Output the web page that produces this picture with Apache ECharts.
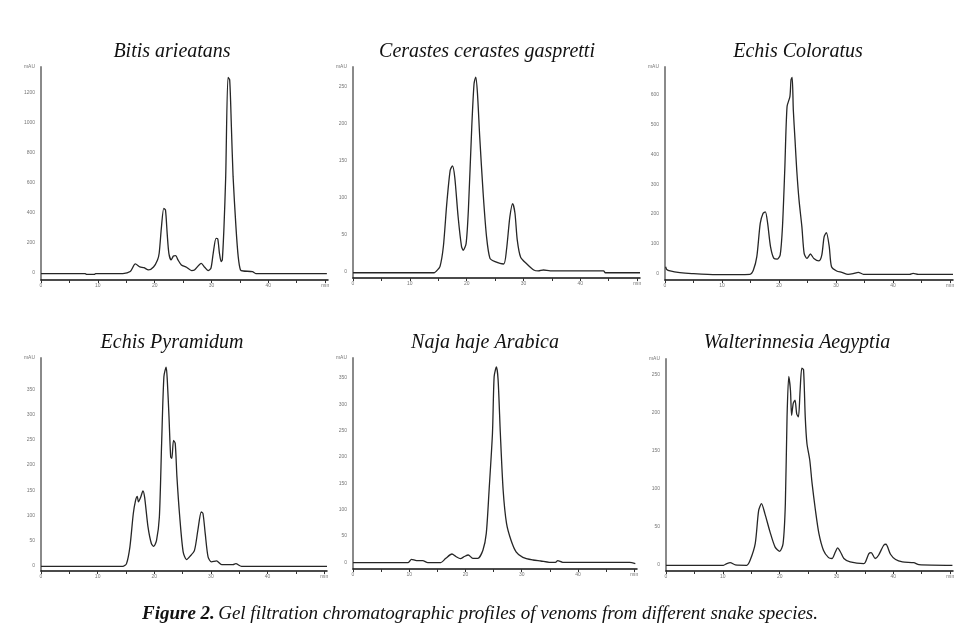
<!DOCTYPE html>
<html><head><meta charset="utf-8">
<script src="https://cdn.jsdelivr.net/npm/echarts@6/dist/echarts.min.js"></script>
<style>html,body{margin:0;padding:0;background:#fff}#c{width:970px;height:636px}</style>
</head><body><div id="c"></div><script>
// ---- data ----
const panelTitles = ['Bitis arieatans', 'Cerastes cerastes gaspretti', 'Echis Coloratus',
  'Echis Pyramidum', 'Naja haje Arabica', 'Walterinnesia Aegyptia'];
const caption = 'Gel filtration chromatographic profiles of venoms from different snake species.';
const captionLead = 'Figure 2.';
const xTickValues = [0, 5, 10, 15, 20, 25, 30, 35, 40, 45, 50];
const xLabelValues = [0, 10, 20, 30, 40, 50];
const xUnit = 'min';
const yUnit = 'mAU';
const yLabels1 = [0, 200, 400, 600, 800, 1000, 1200];
const yLabels2 = [0, 50, 100, 150, 200, 250];
const yLabels3 = [0, 100, 200, 300, 400, 500, 600];
const yLabels4 = [0, 50, 100, 150, 200, 250, 300, 350];
const yLabels5 = [0, 50, 100, 150, 200, 250, 300, 350];
const yLabels6 = [0, 50, 100, 150, 200, 250];

const bitis = [[0,-4],[7.8,-4],[8.0,-10],[9.4,-10],[9.6,-4],[14.4,-4],[15.7,9],[16.6,60],[17.4,40],[18.1,35],[18.9,20],[19.8,40],[20.5,87],[20.8,133],[21.2,309],[21.6,431],[21.9,420],[22.2,264],[22.5,131],[22.9,87],[23.3,113],[23.7,116],[24.1,87],[24.7,53],[25.6,38],[26.5,16],[27.0,20],[28.2,64],[28.8,38],[29.4,16],[29.9,31],[30.3,131],[30.8,231],[31.1,227],[31.4,131],[31.7,76],[31.9,87],[32.2,309],[32.5,642],[32.9,1304],[33.2,1287],[33.5,975],[33.8,642],[34.3,309],[34.7,109],[35.1,20],[35.6,13],[37.2,9],[37.8,-4],[50.3,-4]];
const cerastes = [[0,-1.4],[14.3,-1.4],[14.7,1],[15.3,6.8],[15.9,34],[16.5,92],[17.1,137],[17.5,143],[17.9,128],[18.5,74],[19.1,34],[19.4,29],[19.9,38],[20.3,83],[20.9,196],[21.3,254],[21.6,263],[21.9,241],[22.3,182],[22.9,106],[23.5,47],[24.1,18],[25.0,13.5],[26.5,10.4],[27.0,29],[27.6,74],[28.1,92],[28.5,79],[28.9,43],[29.5,19.5],[30.6,10.4],[31.8,2.3],[32.6,1],[33.5,2.3],[34.7,1],[44.1,1],[44.4,-1.4],[50.5,-1.4]];
const coloratus = [[0.1,22],[0.3,13],[0.9,7.8],[2.6,2.2],[4.7,-1],[9,-4.5],[14.9,-3.4],[15.5,11],[16.1,56],[16.7,168],[17.2,202],[17.6,207],[18.0,168],[18.5,90],[19.1,50],[19.7,48],[20.2,62],[20.6,157],[21.0,348],[21.4,561],[21.9,595],[22.1,651],[22.3,660],[22.5,550],[22.8,449],[23.1,348],[23.5,247],[24.0,157],[24.4,67],[24.9,50],[25.5,65],[26.1,50],[27.0,42],[27.5,62],[27.9,123],[28.3,137],[28.8,90],[29.2,22],[30.1,7.8],[31.0,3.4],[32.1,-3.4],[33.0,-1],[33.9,3.4],[34.8,-3.4],[42.9,-3.4],[43.5,0],[44.4,-3.4],[50.5,-3.4]];
const pyramidum = [[0,-0.6],[14.5,-0.6],[15.1,4.7],[15.7,38],[16.3,104],[16.7,130],[17.0,138],[17.2,127],[17.6,136],[18.0,149],[18.3,136],[18.9,77],[19.5,44],[19.9,39],[20.4,51],[20.9,97],[21.3,243],[21.7,375],[22.1,394],[22.3,368],[22.6,296],[22.9,216],[23.1,213],[23.4,249],[23.7,243],[24.0,177],[24.5,97],[25.1,28],[25.7,12.6],[26.3,19],[27.1,31],[27.7,71],[28.3,107],[28.6,104],[29.0,64],[29.5,18],[30.1,8],[31.0,10],[31.9,2.8],[33.9,2.8],[34.4,4.7],[35.4,-0.6],[50.5,-0.6]];
const naja = [[0,-0.6],[9.8,-0.6],[10.4,5.7],[11.3,3.2],[12.4,3.2],[13.3,-0.6],[15.6,-0.6],[16.5,7.6],[17.6,15.8],[18.3,11],[19.1,7],[19.8,11],[20.5,13.9],[21.3,7.6],[22.2,7.6],[23.1,23],[23.7,55],[24.2,137],[24.8,245],[25.1,353],[25.5,371],[25.8,347],[26.2,245],[26.7,137],[27.3,74],[28.1,42],[29.0,20],[30.2,9.5],[32.0,4.4],[33.4,2.5],[34.9,0],[36.0,0],[36.4,3.2],[37.3,0],[49.2,0],[50.2,-2.5]];
const walterinnesia = [[0,-0.9],[10.1,-0.9],[10.7,1.3],[11.3,2.6],[12.2,-0.4],[14.2,-0.9],[14.8,5.7],[15.7,27.6],[16.3,71],[16.8,80],[17.4,67],[18.3,43],[19.2,23],[20.0,17.5],[20.6,27.6],[21.0,80],[21.3,194],[21.6,247],[21.9,229],[22.1,196],[22.4,212],[22.7,216],[23.0,198],[23.3,194],[23.6,229],[23.9,258],[24.2,256],[24.5,194],[24.8,159],[25.3,137],[25.7,107],[26.3,71],[26.9,41],[27.7,19],[28.6,9.2],[29.2,8],[29.8,16.6],[30.2,22],[30.7,16.6],[31.3,8],[32.4,3.5],[34.8,1.3],[35.1,3.5],[35.7,14.5],[36.1,15.8],[36.8,8],[37.4,12.3],[38.3,25.4],[38.7,26.7],[39.5,13.6],[40.4,6.6],[41.6,3.5],[43.6,2.6],[44.5,0],[50.4,-0.9]];

// ---- layout ----
const series = [bitis, cerastes, coloratus, pyramidum, naja, walterinnesia];
const yLabelSets = [yLabels1, yLabels2, yLabels3, yLabels4, yLabels5, yLabels6];
const yRanges = [[-47, 1373], [-8.5, 276.6], [-22.6, 694.6], [-9.9, 412], [-12.7, 388], [-8.4, 270]];
const grids = [
  {left: 41, top: 67, width: 287, height: 213},
  {left: 353, top: 67, width: 287, height: 211},
  {left: 665, top: 67, width: 288, height: 213},
  {left: 41, top: 358, width: 286, height: 213},
  {left: 353, top: 358, width: 284, height: 211},
  {left: 666, top: 359, width: 287, height: 212}
];
const titlePos = [[172, 52], [487, 52], [798, 52], [172, 343], [485, 343], [797, 343]];

const chart = echarts.init(document.getElementById('c'), null, {renderer: 'canvas'});
const xAxes = [], yAxes = [], ser = [], graphics = [];
grids.forEach((g, i) => {
  const yl = yLabelSets[i];
  const yr = yRanges[i];
  xAxes.push({
    type: 'value', gridIndex: i, min: 0, max: 50.5,
    axisLine: {onZero: false, lineStyle: {color: '#111', width: 1.5}},
    axisTick: {show: true, length: 3, inside: false, customValues: xTickValues, lineStyle: {color: '#333', width: 1}},
    axisLabel: {customValues: xLabelValues, fontSize: 5, color: '#777', margin: 3,
      formatter: v => v === 50 ? xUnit : String(v)},
    splitLine: {show: false}
  });
  yAxes.push({
    type: 'value', gridIndex: i, min: yr[0], max: yr[1],
    axisLine: {show: true, onZero: false, lineStyle: {color: '#8a8a8a', width: 2}},
    axisTick: {show: false},
    axisLabel: {customValues: yl.concat([yr[1]]), fontSize: 5, color: '#777', margin: 6,
      formatter: v => v === yr[1] ? yUnit : String(v)},
    splitLine: {show: false}
  });
  ser.push({
    type: 'line', xAxisIndex: i, yAxisIndex: i, data: series[i],
    showSymbol: false, smooth: 0.25, silent: true,
    lineStyle: {color: '#262626', width: 1.3}
  });
  graphics.push({
    type: 'text', x: titlePos[i][0], y: titlePos[i][1],
    style: {text: panelTitles[i], font: 'italic 20px "Liberation Serif", serif', fill: '#111',
      textAlign: 'center', textVerticalAlign: 'middle'}
  });
});
graphics.push({
  type: 'text', x: 480, y: 614,
  style: {
    text: '{b|' + captionLead + '} {i|' + caption + '}',
    textAlign: 'center', textVerticalAlign: 'middle',
    rich: {
      b: {font: 'italic bold 19px "Liberation Serif", serif', fill: '#111'},
      i: {font: 'italic 19px "Liberation Serif", serif', fill: '#111'}
    }
  }
});

chart.setOption({
  animation: false,
  backgroundColor: '#fff',
  grid: grids,
  xAxis: xAxes,
  yAxis: yAxes,
  series: ser,
  graphic: graphics
});
</script></body></html>
